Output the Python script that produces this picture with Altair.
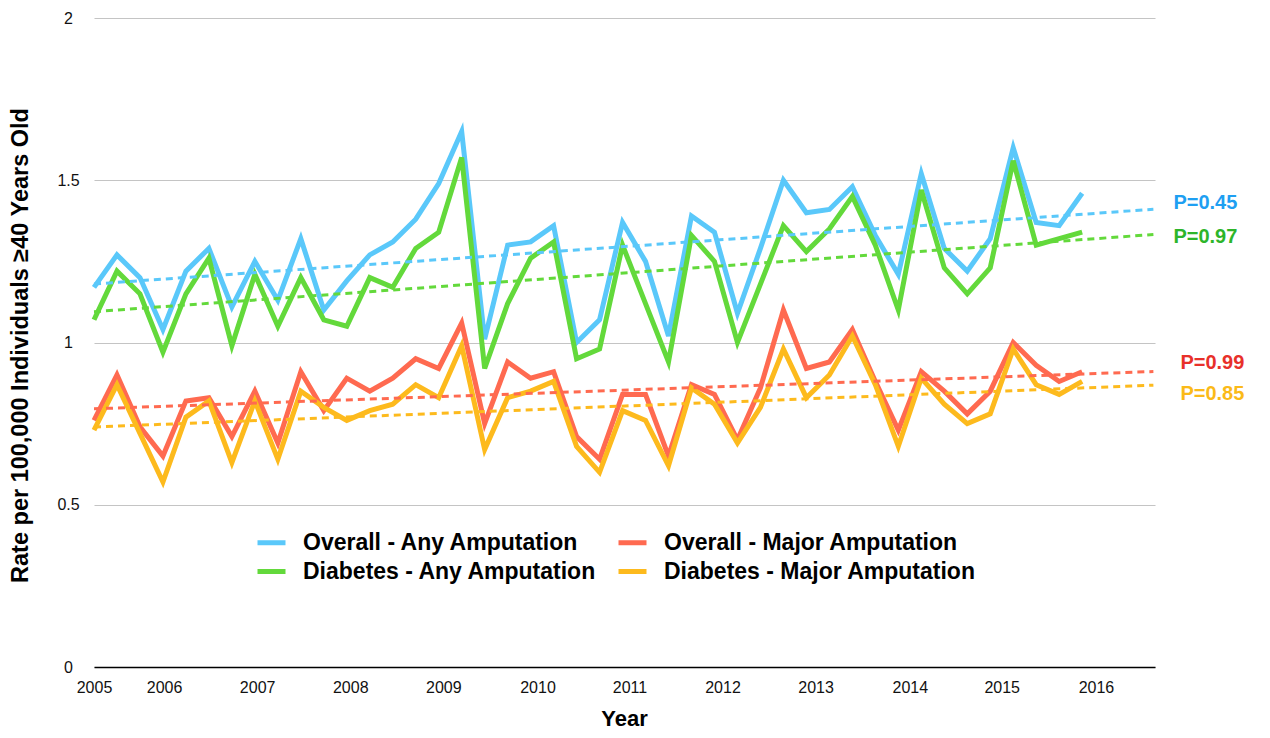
import altair as alt
import pandas as pd

# ---- data (quarterly points, 2005 onward) ----
SERIES = [
    "Overall - Any Amputation",
    "Overall - Major Amputation",
    "Diabetes - Any Amputation",
    "Diabetes - Major Amputation",
]
overall_any = [1.17, 1.27, 1.20, 1.04, 1.22, 1.29, 1.11, 1.25,
               1.13, 1.32, 1.10, 1.19, 1.27, 1.31, 1.38, 1.49,
               1.65, 1.01, 1.30, 1.31, 1.36, 1.00, 1.07,
               1.37, 1.25, 1.02, 1.39, 1.34, 1.09, 1.29, 1.50,
               1.40, 1.41, 1.48, 1.33, 1.21, 1.52, 1.29,
               1.22, 1.32, 1.60, 1.37, 1.36, 1.46]
overall_major = [0.76, 0.90, 0.74, 0.65, 0.82, 0.83, 0.71, 0.85,
                 0.69, 0.91, 0.79, 0.89, 0.85, 0.89, 0.95, 0.92,
                 1.06, 0.75, 0.94, 0.89, 0.91, 0.71, 0.64,
                 0.84, 0.84, 0.65, 0.87, 0.84, 0.70, 0.86, 1.10,
                 0.92, 0.94, 1.04, 0.88, 0.73, 0.91, 0.85,
                 0.78, 0.85, 1.00, 0.93, 0.88, 0.91]
diabetes_any = [1.07, 1.22, 1.15, 0.97, 1.15, 1.26, 0.99, 1.21,
                1.05, 1.20, 1.07, 1.05, 1.20, 1.17, 1.29, 1.34,
                1.57, 0.92, 1.12, 1.26, 1.31, 0.95, 0.98,
                1.30, 1.12, 0.94, 1.33, 1.25, 1.00, 1.18, 1.36,
                1.28, 1.35, 1.45, 1.30, 1.10, 1.47, 1.23,
                1.15, 1.23, 1.56, 1.30, 1.32, 1.34]
diabetes_major = [0.73, 0.87, 0.72, 0.57, 0.77, 0.82, 0.63, 0.82,
                  0.64, 0.85, 0.80, 0.76, 0.79, 0.81, 0.87, 0.83,
                  0.99, 0.67, 0.83, 0.85, 0.88, 0.68, 0.60,
                  0.79, 0.76, 0.62, 0.86, 0.81, 0.69, 0.80, 0.98,
                  0.83, 0.90, 1.02, 0.87, 0.68, 0.89, 0.81,
                  0.75, 0.78, 0.98, 0.87, 0.84, 0.88]
P_TEXT = ["P=0.45", "P=0.99", "P=0.97", "P=0.85"]
YEAR_LABELS = ["2005", "2006", "2007", "2008", "2009", "2010",
               "2011", "2012", "2013", "2014", "2015", "2016"]
Y_TICKS = [0, 0.5, 1, 1.5, 2]

# ---- styling ----
LINE_COLORS = ["#5AC8FA", "#FF6A50", "#63D93B", "#FDBA1D"]
P_COLORS = ["#1E9FF2", "#E8302A", "#2DB52A", "#FBBA18"]
P_DX = [20, 27, 20, 27]
P_DY = [-6, -8, 3, 9]
YEAR_TICK_POS = [0, 3.05, 7.1, 11.15, 15.2, 19.3, 23.3, 27.35, 31.4, 35.5, 39.5, 43.6]
FONT = "Liberation Sans"
X_MAX = 46.17
TREND_END = 46.1

rows = []
for s, vals in zip(SERIES, [overall_any, overall_major, diabetes_any, diabetes_major]):
    for i, v in enumerate(vals):
        rows.append({"i": i, "v": v, "series": s})
df = pd.DataFrame(rows)

label_map = "{" + ",".join(f"'{p}':'{l}'" for p, l in zip(YEAR_TICK_POS, YEAR_LABELS)) + "}"

x_enc = alt.X(
    "i:Q",
    scale=alt.Scale(domain=[0, X_MAX], nice=False, zero=False),
    axis=alt.Axis(
        values=YEAR_TICK_POS,
        labelExpr=f"{label_map}[''+datum.value]",
        grid=False, ticks=False, domain=True, domainColor="#000000", domainWidth=1.5,
        labelFontSize=16, labelFont=FONT, labelColor="#111111", labelPadding=12,
        title="Year", titleFont=FONT, titleFontSize=22, titleFontWeight="bold",
        titleColor="#000000", titleX=530, titleY=51, titleBaseline="middle",
        titleAlign="center", labelFlush=False, labelOverlap=False,
    ),
)
y_enc = alt.Y(
    "v:Q",
    scale=alt.Scale(domain=[0, 2], nice=False),
    axis=alt.Axis(
        values=Y_TICKS, format="~g",
        grid=True, gridColor="#c4c4c4", gridWidth=1.2,
        ticks=False, domain=False,
        labelFontSize=16, labelFont=FONT, labelColor="#111111",
        labelAlign="center", labelPadding=26,
        title="Rate per 100,000 Individuals \u226540 Years Old",
        titleFont=FONT, titleFontSize=23.5, titleFontWeight="bold", titleColor="#000000",
        titleAngle=270, titleX=-74, titleY=327, titleAlign="center", titleBaseline="middle",
    ),
)
color_scale = alt.Scale(domain=SERIES, range=LINE_COLORS)

lines = alt.Chart(df).mark_line(strokeWidth=5, strokeJoin="miter", strokeCap="butt").encode(
    x=x_enc, y=y_enc,
    color=alt.Color(
        "series:N", scale=color_scale, sort=SERIES,
        legend=alt.Legend(
            orient="none", legendX=161, legendY=508, columns=2, direction="horizontal",
            title=None,
            symbolType="stroke", symbolSize=784, symbolStrokeWidth=5,
            labelFontSize=23, labelFontWeight="bold", labelFont=FONT, labelColor="#000000",
            labelLimit=600, rowPadding=0, columnPadding=11, labelOffset=15, padding=0,
        ),
    ),
)

trends = alt.Chart(df).transform_regression(
    "i", "v", groupby=["series"], extent=[0, TREND_END]
).mark_line(strokeWidth=3, strokeDash=[7, 5]).encode(
    x=x_enc, y=y_enc,
    color=alt.Color("series:N", scale=color_scale, legend=None),
)

labels = []
for s, p, c, dx, dy in zip(SERIES, P_TEXT, P_COLORS, P_DX, P_DY):
    labels.append(
        alt.Chart(df).transform_filter(alt.datum.series == s)
        .transform_regression("i", "v", extent=[0, TREND_END])
        .transform_filter(f"datum.i > {TREND_END - 0.5}")
        .mark_text(text=p, color=c, align="left", baseline="middle", dx=dx, dy=dy,
                   fontSize=20, fontWeight="bold", font=FONT)
        .encode(x=x_enc, y=y_enc)
    )

chart = alt.layer(lines, trends, *labels).properties(
    width=1061, height=649,
    autosize=alt.AutoSizeParams(type="none"),
    padding={"left": 86, "top": 10, "right": 100, "bottom": 63},
).configure_view(stroke=None)

chart.save("out.html", embed_options={"renderer": "svg", "actions": False})
